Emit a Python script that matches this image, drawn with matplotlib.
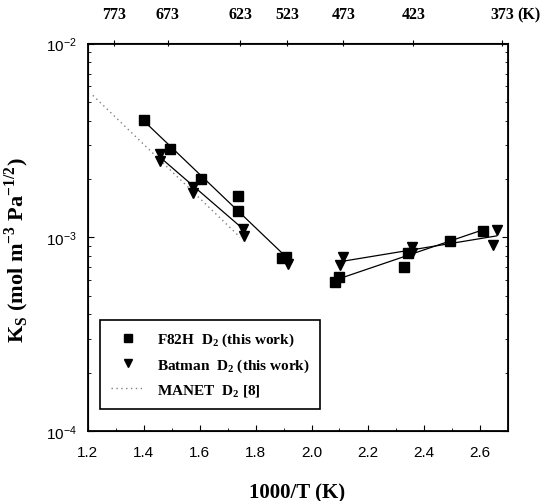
import matplotlib
matplotlib.use("Agg")
import matplotlib.pyplot as plt
from matplotlib.lines import Line2D
import numpy as np

# ---- data ----
f82h_x = [1.402, 1.495, 1.605, 1.736, 1.736, 1.894, 1.910,
          2.084, 2.099, 2.330, 2.346, 2.495, 2.614]
f82h_k = [4.05e-3, 2.86e-3, 2.00e-3, 1.64e-3, 1.37e-3, 7.8e-4, 7.9e-4,
          5.9e-4, 6.2e-4, 7.0e-4, 8.3e-4, 9.6e-4, 1.08e-3]
bat_x = [1.459, 1.459, 1.578, 1.578, 1.757, 1.759, 1.917,
         2.102, 2.114, 2.358, 2.358, 2.649, 2.661]
bat_k = [2.69e-3, 2.48e-3, 1.81e-3, 1.69e-3, 1.10e-3, 1.01e-3, 7.3e-4,
         7.2e-4, 7.9e-4, 8.9e-4, 8.3e-4, 9.1e-4, 1.09e-3]

# fitted lines (end points)
f82h_fit_hi_x = [1.40, 1.91]
f82h_fit_hi_k = [4.0e-3, 7.9e-4]
f82h_fit_lo_x = [2.09, 2.608]
f82h_fit_lo_k = [6.05e-4, 1.087e-3]
bat_fit_hi_x = [1.46, 1.76]
bat_fit_hi_k = [2.58e-3, 1.09e-3]
bat_fit_lo_x = [2.114, 2.661]
bat_fit_lo_k = [7.53e-4, 1.016e-3]
manet_x = [1.219, 1.745]
manet_k = [5.4e-3, 1.0e-3]

top_T = [773, 673, 573, 523, 473, 423, 373]
top_labels = ["773", "673", "623", "523", "473", "423", "373"]

x_ticks = [1.2, 1.4, 1.6, 1.8, 2.0, 2.2, 2.4, 2.6]
y_ticks = [1e-4, 1e-3, 1e-2]
y_labels = [r"$\mathregular{10^{-4}}$", r"$\mathregular{10^{-3}}$", r"$\mathregular{10^{-2}}$"]

serif = "Liberation Serif"
sans = "Liberation Sans"

fig = plt.figure(figsize=(5.44, 5.02), dpi=100)
ax = fig.add_axes([87.5/544, 1 - 432/502, 420/544, 387.5/502])

ax.set_yscale("log")
ax.set_xlim(1.2, 2.7)
ax.set_ylim(1e-4, 1e-2)

# lines
ax.plot(manet_x, manet_k, color="0.5", lw=1.0, ls=(0, (1, 2.5)))
for xs, ks in [(f82h_fit_hi_x, f82h_fit_hi_k), (f82h_fit_lo_x, f82h_fit_lo_k),
               (bat_fit_hi_x, bat_fit_hi_k), (bat_fit_lo_x, bat_fit_lo_k)]:
    ax.plot(xs, ks, color="black", lw=0.9)

ax.plot(f82h_x, f82h_k, ls="none", marker="s", ms=6.5, color="black")
ax.plot(bat_x, bat_k, ls="none", marker="v", ms=7.5, color="black")

# ticks
ax.set_xticks(x_ticks)
ax.set_xticklabels([f"{v:.1f}" for v in x_ticks], fontfamily=sans, fontsize=11)
ax.set_xticks(np.arange(1.3, 2.7, 0.2), minor=True)
ax.set_yticks(y_ticks)
ax.set_yticklabels(y_labels, fontfamily=sans, fontsize=11)
ax.tick_params(axis="both", which="both", direction="in", top=False, right=True)
ax.tick_params(axis="x", which="major", length=4, pad=10)
ax.tick_params(axis="x", which="minor", length=2)
ax.tick_params(axis="y", which="major", length=4, pad=8)
ax.tick_params(axis="y", which="minor", length=2.5)
for s in ax.spines.values():
    s.set_linewidth(1.3)

# top axis
ax2 = ax.twiny()
ax2.set_xlim(ax.get_xlim())
ax2.set_xticks([1000.0 / t for t in top_T])
ax2.set_xticklabels(top_labels, fontfamily=serif, fontweight="bold", fontsize=11.5)
ax2.tick_params(axis="x", direction="inout", length=5, pad=13)
ax2.text(2.775, (432 - 15) / 387.5, "(K)", transform=ax2.get_xaxis_transform(),
         fontfamily=serif, fontweight="bold", fontsize=11.5, ha="center", va="center",
         clip_on=False)

ax.set_xlabel("1000/T (K)", fontfamily=serif, fontweight="bold", fontsize=15, labelpad=17)
ax.set_ylabel(r"K$_\mathregular{S}$ (mol m$^\mathregular{-3}$ Pa$^\mathregular{-1/2}$)",
              fontfamily=serif, fontweight="bold", fontsize=16)
ax.yaxis.set_label_coords(-0.135, 0.47)

handles = [
    Line2D([], [], ls="none", marker="s", ms=6, color="black"),
    Line2D([], [], ls="none", marker="v", ms=6, color="black"),
    Line2D([], [], color="0.5", lw=1.0, ls=(0, (1, 2.5))),
]
labels = [r"F82H  D$\mathregular{_2}$ (this work)",
          r"Batman  D$\mathregular{_2}$ (this work)",
          r"MANET  D$\mathregular{_2}$ [8]"]
leg = ax.legend(handles, labels, loc="lower left", bbox_to_anchor=(0.03, 0.057),
                borderaxespad=0,
                prop={"family": serif, "weight": "bold", "size": 11},
                frameon=True, fancybox=False, edgecolor="black", framealpha=1,
                handlelength=2.2, handletextpad=0.8, labelspacing=0.55,
                borderpad=0.7)
leg.get_frame().set_linewidth(1.2)

fig.savefig("out.png", dpi=100)
